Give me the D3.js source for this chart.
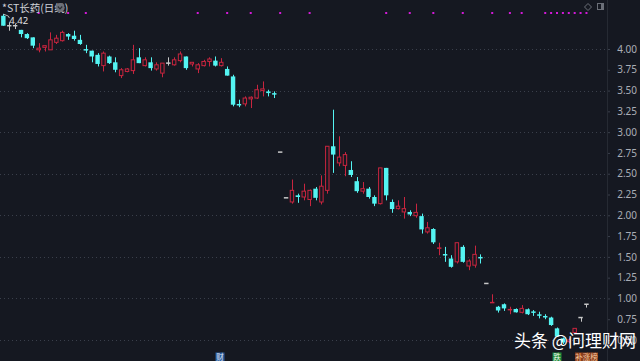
<!DOCTYPE html>
<html><head><meta charset="utf-8">
<script src="https://cdn.jsdelivr.net/npm/d3@7/dist/d3.min.js"></script>
<style>
html,body{margin:0;padding:0;background:#151821;overflow:hidden}
svg{display:block}
</style></head>
<body>
<svg id="chart" width="640" height="361"></svg>
<script>
const title = "*ST长药(日线)";
const days = d3.range(1, 101).map(d => "D" + d);
const openP  = [4.40,4.28,4.28,4.23,4.18,4.14,3.99,4.02,3.99,4.08,4.10,4.18,4.16,4.11,3.99,3.98,3.93,3.80,3.91,3.84,
3.68,3.73,3.74,3.90,3.80,3.84,3.76,3.71,3.83,3.81,3.86,3.91,3.82,3.76,3.80,3.85,3.86,3.80,3.76,3.67,
3.33,3.34,3.40,3.41,3.50,3.49,3.46,2.76,2.21,2.16,2.24,2.22,2.19,2.32,2.16,2.30,2.83,2.63,2.60,2.545,
2.41,2.29,2.32,2.22,2.14,2.57,2.16,2.08,2.04,2.04,1.995,1.99,1.80,1.835,1.59,1.525,1.48,1.44,1.62,1.39,
1.40,1.49,1.18,0.945,0.90,0.93,0.855,0.873,0.833,0.87,0.835,0.80,0.78,0.77,0.64,0.52,0.48,0.59,0.77,0.93];
const highP  = [4.42,4.32,4.30,4.23,4.19,4.14,4.07,4.04,4.20,4.17,4.22,4.19,4.22,4.17,4.05,3.98,3.95,3.97,3.92,3.90,
3.77,3.77,4.05,4.01,3.90,3.90,3.84,3.83,3.90,3.90,3.97,3.91,3.84,3.83,3.87,3.90,3.91,3.89,3.79,3.69,
3.39,3.43,3.43,3.57,3.61,3.51,3.49,2.76,2.21,2.43,2.26,2.38,2.31,2.34,2.48,2.83,3.27,2.95,2.76,2.65,
2.46,2.40,2.34,2.24,2.57,2.57,2.19,2.18,2.22,2.06,2.14,2.02,1.92,1.845,1.67,1.62,1.52,1.67,1.64,1.47,
1.635,1.53,1.18,1.05,0.91,0.94,0.90,0.88,0.92,0.88,0.86,0.84,0.81,0.78,0.65,0.53,0.52,0.64,0.77,0.93];
const lowP   = [4.28,4.22,4.24,4.14,4.12,4.01,3.96,3.97,3.99,4.06,4.09,4.11,4.10,4.05,3.95,3.84,3.79,3.73,3.82,3.72,
3.65,3.72,3.70,3.83,3.79,3.74,3.74,3.66,3.80,3.80,3.84,3.75,3.79,3.71,3.79,3.79,3.79,3.79,3.68,3.31,
3.30,3.31,3.29,3.40,3.43,3.43,3.41,2.76,2.21,2.14,2.15,2.18,2.11,2.18,2.13,2.26,2.51,2.59,2.47,2.46,
2.27,2.26,2.20,2.11,2.13,2.18,2.03,2.07,1.96,1.99,1.97,1.78,1.78,1.655,1.52,1.44,1.37,1.42,1.43,1.34,
1.37,1.42,1.18,0.945,0.83,0.85,0.81,0.83,0.82,0.80,0.79,0.76,0.75,0.67,0.54,0.45,0.46,0.59,0.72,0.89];
const closeP = [4.28,4.28,4.28,4.18,4.13,4.04,4.01,4.04,4.11,4.13,4.20,4.15,4.12,4.06,3.99,3.91,3.82,3.95,3.83,3.75,
3.75,3.76,3.87,3.83,3.87,3.77,3.81,3.83,3.83,3.87,3.94,3.77,3.84,3.81,3.85,3.88,3.80,3.84,3.68,3.33,
3.32,3.41,3.42,3.51,3.52,3.47,3.46,2.76,2.21,2.30,2.22,2.29,2.30,2.21,2.35,2.83,2.73,2.70,2.73,2.485,
2.29,2.32,2.22,2.14,2.57,2.24,2.075,2.11,2.08,2.01,2.035,1.83,1.85,1.675,1.605,1.52,1.38,1.67,1.44,1.45,
1.53,1.48,1.18,0.95,0.855,0.88,0.865,0.833,0.88,0.81,0.83,0.80,0.78,0.68,0.54,0.47,0.50,0.64,0.77,0.93];
const markDays = [6,11,14,33,38,42,47,52,65,69,73,78,83,86,88,92,93,94,95,96,97,98,99];
const yTicks = [0.5,0.75,1.0,1.25,1.5,1.75,2.0,2.25,2.5,2.75,3.0,3.25,3.5,3.75,4.0];
const gridTicks = [0.5,1.0,1.5,2.0,2.5,3.0,3.5,4.0];

const RED = "#c9253f", CYAN = "#54f4f2", GREY = "#c8c8c8";
const svg = d3.select("#chart");
svg.append("rect").attr("width",640).attr("height",361).attr("fill","#151821");

const x = d3.scaleBand().domain(days).range([0.4, 589.4]).paddingInner(0.25).paddingOuter(0.125);
const y = d3.scaleLinear().domain([0.5, 4.0]).range([340, 49]);

// grid
svg.append("g").selectAll("line").data(gridTicks).join("line")
  .attr("x1",0).attr("x2",607).attr("y1",d=>Math.round(y(d))+0.5).attr("y2",d=>Math.round(y(d))+0.5)
  .attr("stroke","#3a3f4b").attr("stroke-width",1).attr("stroke-dasharray","1,3");
svg.append("line").attr("x1",607.5).attr("x2",607.5).attr("y1",0).attr("y2",361).attr("stroke","#262a33");

// axis
const axis = d3.axisRight(y).tickValues(yTicks).tickFormat(d3.format(".2f")).tickSize(2).tickPadding(0);
const ag = svg.append("g").attr("transform","translate(608,0)").call(axis);
ag.select(".domain").remove();
ag.selectAll(".tick line").attr("stroke","#3a3f4b");
ag.selectAll(".tick text").attr("x",29).attr("text-anchor","end").attr("fill","#a9adb6").attr("font-size","10px")
  .attr("font-family","'Noto Sans', 'DejaVu Sans', sans-serif");

// candles
const data = days.map((d,i)=>({d, o:openP[i], h:highP[i], l:lowP[i], c:closeP[i], pc: i>0?closeP[i-1]:openP[i]}));
function col(k){
  if (k.c > k.o) return RED;
  if (k.c < k.o) return CYAN;
  if (k.h === k.l || k.h === k.c) return GREY;
  if (k.c > k.pc) return RED;
  if (k.c < k.pc) return CYAN;
  return GREY;
}
const bw = x.bandwidth();
const g = svg.append("g");
data.forEach(k=>{
  const cx = Math.round(x(k.d) + bw/2) + 0.5;
  const color = col(k);
  const top = y(Math.max(k.o,k.c)), bot = y(Math.min(k.o,k.c));
  if (k.h !== k.l) {
    g.append("line").attr("x1",cx).attr("x2",cx).attr("y1",y(k.h)).attr("y2",y(k.l))
      .attr("stroke", color).attr("stroke-width",1);
  }
  const h = bot - top;
  if (h < 1.5) {
    g.append("rect").attr("x",x(k.d)).attr("y",top - 0.75).attr("width",bw).attr("height",Math.max(1.5,h))
      .attr("fill",color);
  } else if (color === RED) {
    g.append("rect").attr("x",x(k.d)+0.5).attr("y",top).attr("width",bw-1).attr("height",h)
      .attr("fill","#151821").attr("stroke",RED).attr("stroke-width",1);
  } else {
    g.append("rect").attr("x",x(k.d)).attr("y",top).attr("width",bw).attr("height",h).attr("fill",color);
  }
});

// high annotation
const hiIdx = d3.maxIndex(highP);
const hx = x(days[hiIdx]) + bw/2, hy = y(highP[hiIdx]);
svg.append("path").attr("d",`M${hx},${hy} L${hx+5},${hy+2} L${hx+6},${hy+4}`).attr("fill","none").attr("stroke","#d8d8d8").attr("stroke-width",0.8);
svg.append("text").attr("x",hx+6).attr("y",hy+10).text(highP[hiIdx].toFixed(2))
  .attr("fill","#e0e0e0").attr("font-size","9.5px").attr("font-family","'Noto Sans', sans-serif");

// magenta markers
svg.append("g").selectAll("rect").data(markDays).join("rect")
  .attr("x",d=>x(days[d]) + bw/2 - 1).attr("y",12).attr("width",2).attr("height",2).attr("fill","#d21ad8");

// title
svg.append("text").attr("x",2).attr("y",11.5).text(title).attr("fill","#cfd2d8")
  .attr("font-size","10.5px").attr("font-family","'Noto Sans CJK SC', sans-serif");
svg.append("circle").attr("cx",60).attr("cy",7.5).attr("r",4.5).attr("fill","#6b6f78");
svg.append("path").attr("d","M57.8,6.5 L60,8.8 L62.2,6.5").attr("fill","none").attr("stroke","#2a2d33").attr("stroke-width",1.2);
// top-right icons
svg.append("path").attr("d","M588,3.5 L591.5,7 L588,10.5 L584.5,7 Z").attr("fill","none").attr("stroke","#6b6f78");
svg.append("rect").attr("x",597.5).attr("y",3.5).attr("width",6).attr("height",6).attr("fill","none").attr("stroke","#6b6f78");
svg.append("rect").attr("x",601).attr("y",4).attr("width",2).attr("height",5).attr("fill","#6b6f78");

// bottom badges
function badge(x0, w, txt, bg, fg){
  svg.append("rect").attr("x",x0).attr("y",352.5).attr("width",w).attr("height",8.5).attr("fill",bg);
  svg.append("text").attr("x",x0+w/2).attr("y",359.5).attr("text-anchor","middle").text(txt)
    .attr("fill",fg).attr("font-size","7.5px").attr("font-family","'Noto Sans CJK SC', sans-serif");
}
badge(215.5, 9, "财", "#2d5a9a", "#d8e4f4");
badge(552.5, 9, "跌", "#1f8a3a", "#e8f6e8");
badge(575, 23, "补涨榜", "#8a3e1c", "#f4c9a0");

// watermark
svg.append("text").attr("x",514).attr("y",347).text("头条 @问理财网")
  .attr("fill","#ffffff").attr("font-size","17px").attr("font-family","'Noto Sans CJK SC', sans-serif");
</script>
</body></html>
